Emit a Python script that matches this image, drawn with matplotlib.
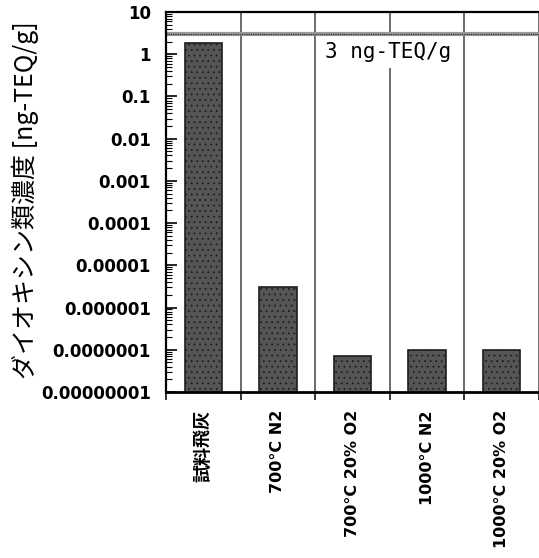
import numpy as np
import matplotlib
matplotlib.use("Agg")
import matplotlib.pyplot as plt
from matplotlib.ticker import LogLocator, NullFormatter

# --- データ ---
categories = ["試料飛灰", "700°C N2", "700°C 20% O2", "1000°C N2", "1000°C 20% O2"]
values = [1.8, 3.1e-6, 7.0e-8, 1.0e-7, 1.0e-7]
limit_value = 3.0
limit_label = "3 ng-TEQ/g"
ytick_vals = [1e1, 1e0, 1e-1, 1e-2, 1e-3, 1e-4, 1e-5, 1e-6, 1e-7, 1e-8]
ytick_labels = ["10", "1", "0.1", "0.01", "0.001", "0.0001", "0.00001",
                "0.000001", "0.0000001", "0.00000001"]
ylabel = "ダイオキシン類濃度 [ng-TEQ/g]"

plt.rcParams['font.family'] = ['DejaVu Sans', 'Noto Sans CJK JP']
plt.rcParams['hatch.linewidth'] = 0.6

fig = plt.figure(figsize=(5.39, 5.58), dpi=100)
ax = fig.add_axes([166 / 539, 166 / 558, 373 / 539, 380 / 558])

x = np.arange(len(categories))
ax.bar(x, values, width=0.5, color='#555555', edgecolor='#1e1e1e',
       linewidth=1.2, hatch='...', zorder=3)

ax.set_yscale('log')
ax.set_ylim(1e-8, 10)
ax.set_xlim(-0.5, 4.43)

# 区切り線
for b in np.arange(0.5, len(categories), 1.0):
    ax.axvline(b, color='#444444', linewidth=1.1, zorder=1)

# 基準線 3 ng-TEQ/g
ax.axhline(limit_value, color='#999999', linewidth=3, zorder=4)
ax.axhline(limit_value, color='#222222', linewidth=0.8, linestyle=(0, (1, 1)), zorder=5)
ax.text(1.63, 1.12, limit_label, fontsize=15, family='DejaVu Sans Mono',
        ha='left', va='center',
        bbox=dict(boxstyle='square,pad=0.3', facecolor='white', edgecolor='none'),
        zorder=2)

ax.set_yticks(ytick_vals)
ax.set_yticklabels(ytick_labels, fontsize=12, fontweight='bold')
ax.yaxis.set_minor_locator(LogLocator(base=10, subs=np.arange(2, 10), numticks=100))
ax.yaxis.set_minor_formatter(NullFormatter())
ax.tick_params(axis='y', which='major', direction='in', length=8, width=1.2, pad=11)
ax.tick_params(axis='y', which='minor', direction='in', length=4, width=0.8)

ax.set_xticks(x)
ax.set_xticklabels(categories, rotation=90, fontsize=11.5, fontweight='bold',
                   va='top', ha='center')
first = ax.get_xticklabels()[0]
first.set_family(['Noto Sans CJK JP'])
first.set_fontsize(13)
ax.tick_params(axis='x', which='major', length=0, pad=13)
ax.set_xticks(np.arange(-0.5, len(categories), 1.0), minor=True)
ax.tick_params(axis='x', which='minor', direction='out', length=6, width=1.1)

ax.spines['right'].set_visible(False)
ax.spines['top'].set_linewidth(1.6)
ax.spines['left'].set_linewidth(1.6)
ax.spines['bottom'].set_linewidth(2.0)
for s in ax.spines.values():
    s.set_zorder(6)

fig.text(25 / 539, 1 - 200 / 558, ylabel, rotation=90, fontsize=18,
         family=['Noto Sans CJK JP'], ha='center', va='center')

fig.savefig("out.png", dpi=100)
